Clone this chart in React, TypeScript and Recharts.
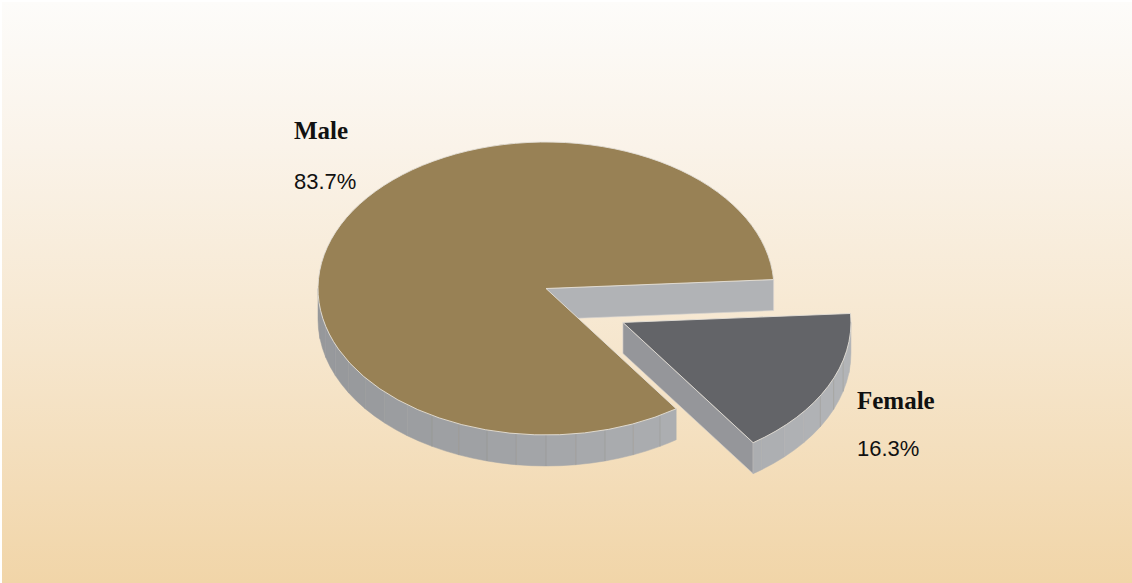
import React from 'react';
import { PieChart, Pie } from 'recharts';

const categories = ['Male', 'Female'];
const shares = [83.7, 16.3];
const exploded = [false, true];

const topColors = ['#988155', '#636468'];
const faceColors = ['#b1b3b6', '#95969a'];

const data = categories.map((name, i) => ({ name, value: shares[i], explode: exploded[i], top: topColors[i], face: faceColors[i] }));

const W = 1130;
const H = 581;
const TILT = 0.6425;
const DEPTH = 31;
const EXPLODE = 85.5;
const RAD = Math.PI / 180;

const wallShade = (a: number) => {
  const g = Math.round(164 + 14 * Math.cos(a * RAD));
  return `rgb(${g},${g + 2},${g + 5})`;
};

const showSeam = (a: number) => {
  const n = ((a % 360) + 360) % 360;
  return (n >= 240 && n <= 302) || (n >= 326 && n <= 350);
};

const geom = (props: any) => {
  const { cx, cy, outerRadius, startAngle, endAngle, midAngle, payload } = props;
  const rx = outerRadius;
  const ry = rx * TILT;
  const mid = midAngle ?? (startAngle + endAngle) / 2;
  let ox = 0;
  let oy = 0;
  if (payload && payload.explode) {
    ox = EXPLODE * Math.cos(mid * RAD);
    oy = -EXPLODE * Math.sin(mid * RAD) * 0.91;
  }
  return { ccx: cx + ox, ccy: cy + oy, rx, ry, a0: Math.min(startAngle, endAngle), a1: Math.max(startAngle, endAngle), mid };
};

const Slice3D = (props: any) => {
  const { ccx, ccy, rx, ry, a0, a1 } = geom(props);
  const payload = props.payload || {};
  const pt = (a: number, dz = 0): [number, number] => [ccx + rx * Math.cos(a * RAD), ccy - ry * Math.sin(a * RAD) + dz];
  const els: React.ReactNode[] = [];

  if (Math.cos(a0 * RAD) > 0) {
    const p = pt(a0);
    els.push(
      <path key="f0" d={`M${ccx},${ccy} L${p[0]},${p[1]} L${p[0]},${p[1] + DEPTH} L${ccx},${ccy + DEPTH} Z`} fill={payload.face} stroke="#d6d4d0" strokeWidth={0.6} />
    );
  }
  if (Math.cos(a1 * RAD) < 0) {
    const p = pt(a1);
    els.push(
      <path key="f1" d={`M${ccx},${ccy} L${p[0]},${p[1]} L${p[0]},${p[1] + DEPTH} L${ccx},${ccy + DEPTH} Z`} fill={payload.face} stroke="#d6d4d0" strokeWidth={0.6} />
    );
  }
  const ranges: [number, number][] = [];
  for (const base of [-360, 0, 360]) {
    const lo = Math.max(a0, 180 + base);
    const hi = Math.min(a1, 360 + base);
    if (hi > lo) ranges.push([lo, hi]);
  }
  const STEP = 7.5;
  ranges.forEach(([lo, hi], ri) => {
    const cuts: number[] = [lo];
    let s = Math.ceil(lo / STEP) * STEP;
    if (s - lo < 0.01) s += STEP;
    for (; s < hi - 0.01; s += STEP) cuts.push(s);
    cuts.push(hi);
    for (let k = 0; k < cuts.length - 1; k++) {
      const b0 = cuts[k];
      const b1 = cuts[k + 1];
      const t0 = pt(b0);
      const t1 = pt(b1);
      const d = `M${t0[0]},${t0[1]} A${rx},${ry} 0 0 0 ${t1[0]},${t1[1]} L${t1[0]},${t1[1] + DEPTH} A${rx},${ry} 0 0 1 ${t0[0]},${t0[1] + DEPTH} Z`;
      const c = wallShade((b0 + b1) / 2);
      els.push(<path key={`w${ri}-${k}`} d={d} fill={c} stroke={c} strokeWidth={0.5} />);
    }
    for (let k = 1; k < cuts.length - 1; k++) {
      const a = cuts[k];
      if (showSeam(a)) {
        const t = pt(a);
        els.push(<line key={`l${ri}-${k}`} x1={t[0]} y1={t[1]} x2={t[0]} y2={t[1] + DEPTH} stroke="#8f8b84" strokeOpacity={0.45} strokeWidth={0.8} />);
      }
    }
  });
  const s0 = pt(a0);
  const s1 = pt(a1);
  const large = a1 - a0 > 180 ? 1 : 0;
  els.push(
    <path key="top" d={`M${ccx},${ccy} L${s0[0]},${s0[1]} A${rx},${ry} 0 ${large} 0 ${s1[0]},${s1[1]} Z`} fill={payload.top} stroke="#e4e0d8" strokeWidth={0.9} strokeLinejoin="round" />
  );
  return <g>{els}</g>;
};

const renderLabel = (props: any) => {
  const { ccx, ccy, rx, ry, mid } = geom(props);
  const left = Math.cos(mid * RAD) < 0;
  const x = left ? ccx - rx - 24 : ccx + rx + 6;
  const y = left ? ccy - ry - 3 : ccy + ry * 0.593;
  const gap = left ? 50 : 47;
  return (
    <g key={`lab-${props.index}`}>
      <text x={x} y={y} textAnchor="start" fontFamily="'Liberation Serif', 'Times New Roman', serif" fontWeight="bold" fontSize={25} fill="#111">
        {props.name}
      </text>
      <text x={x} y={y + gap} textAnchor="start" fontFamily="'Liberation Sans Narrow', 'Arial Narrow', 'Liberation Sans', sans-serif" fontSize={22} fill="#111">
        {`${Number(props.value).toFixed(1)}%`}
      </text>
    </g>
  );
};

export default function App() {
  return (
    <div
      style={{
        position: 'absolute',
        left: 2,
        top: 2,
        width: W,
        height: H,
        background: 'linear-gradient(to bottom, #fdfcfa 0%, #faf3e9 25%, #f6e6cd 60%, #f1d5a8 100%)',
      }}
    >
      <PieChart width={W} height={H} margin={{ top: 0, right: 0, bottom: 0, left: 0 }}>
        <Pie
          data={data}
          dataKey="value"
          nameKey="name"
          cx={544}
          cy={286.5}
          outerRadius={228}
          startAngle={3.5}
          endAngle={363.5}
          stroke="none"
          shape={Slice3D}
          label={renderLabel}
          labelLine={false}
          isAnimationActive={false}
        />
      </PieChart>
    </div>
  );
}
